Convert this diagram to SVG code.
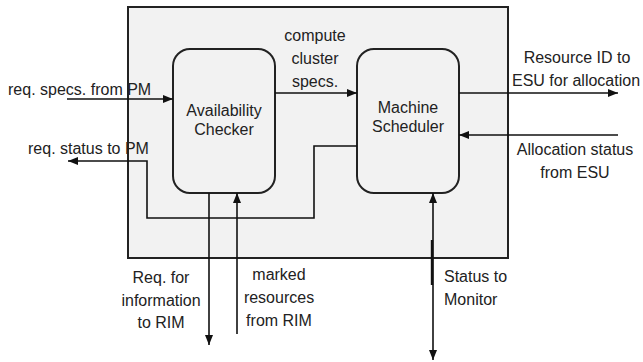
<svg xmlns="http://www.w3.org/2000/svg" width="643" height="362" viewBox="0 0 643 362">
<style>
text{font-family:"Liberation Sans",Arial,sans-serif;font-size:16px;fill:#222}
.c{text-anchor:middle}
.node{fill:#f2f2f2;stroke:#222;stroke-width:2}
.ln{fill:none;stroke:#111;stroke-width:1.6}
</style>
<defs>
<marker id="ah" viewBox="0 0 10 8" refX="10" refY="4" markerWidth="10" markerHeight="8" markerUnits="userSpaceOnUse" orient="auto-start-reverse">
<path d="M0,0 L10,4 L0,8 Z" fill="#111"/>
</marker>
</defs>
<rect id="boundary" x="128" y="7" width="380" height="251" fill="#f2f2f2" stroke="#222" stroke-width="2"/>
<g id="availability-checker">
<rect class="node" x="173" y="49" width="102" height="144" rx="17"/>
<text class="c" x="224" y="116">Availability</text>
<text class="c" x="224" y="135">Checker</text>
</g>
<g id="machine-scheduler">
<rect class="node" x="357" y="49" width="102" height="144" rx="17"/>
<text class="c" x="408" y="113">Machine</text>
<text class="c" x="408" y="132">Scheduler</text>
</g>
<g id="connectors">
<line class="ln" x1="67" y1="99" x2="173" y2="99" marker-end="url(#ah)"/>
<path class="ln" d="M357,146 H314 V218 H147 V161 H68" marker-end="url(#ah)"/>
<line class="ln" x1="275" y1="93" x2="357" y2="93" marker-end="url(#ah)"/>
<line class="ln" x1="459" y1="93" x2="618" y2="93" marker-end="url(#ah)"/>
<line class="ln" x1="618" y1="135" x2="459" y2="135" marker-end="url(#ah)"/>
<line class="ln" x1="209" y1="193" x2="209" y2="345" marker-end="url(#ah)"/>
<line class="ln" x1="237" y1="334" x2="237" y2="193" marker-end="url(#ah)"/>
<line class="ln" x1="433" y1="193" x2="433" y2="360" marker-start="url(#ah)" marker-end="url(#ah)"/>
<line x1="432" y1="240" x2="432" y2="285" stroke="#111" stroke-width="2.4"/>
</g>
<g id="labels">
<text x="8" y="95">req. specs. from PM</text>
<text x="28" y="154">req. status to PM</text>
<text class="c" x="315" y="41">compute</text>
<text class="c" x="315" y="64">cluster</text>
<text class="c" x="315" y="87">specs.</text>
<text class="c" x="577" y="63">Resource ID to</text>
<text class="c" x="576" y="86">ESU for allocation</text>
<text class="c" x="575" y="155">Allocation status</text>
<text class="c" x="575" y="178">from ESU</text>
<text class="c" x="161" y="283">Req. for</text>
<text class="c" x="161" y="306">information</text>
<text class="c" x="161" y="328">to RIM</text>
<text class="c" x="279" y="280">marked</text>
<text class="c" x="279" y="303">resources</text>
<text class="c" x="279" y="326">from RIM</text>
<text x="444" y="282">Status to</text>
<text x="444" y="305">Monitor</text>
</g>
</svg>
